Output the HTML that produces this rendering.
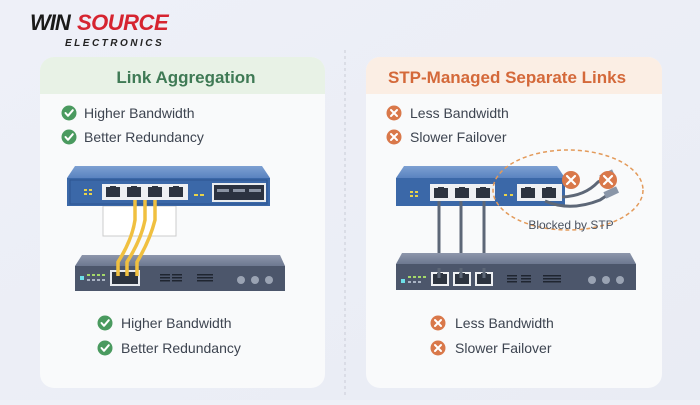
<!DOCTYPE html>
<html><head><meta charset="utf-8"><style>
body{margin:0;width:700px;height:400px;overflow:hidden;background:#eef0f7;font-family:"Liberation Sans",sans-serif}
</style></head><body>
<svg width="700" height="400" viewBox="0 0 700 400" xmlns="http://www.w3.org/2000/svg" font-family="Liberation Sans, sans-serif">
<defs>
<linearGradient id="bg" x1="0" y1="0" x2="1" y2="1"><stop offset="0" stop-color="#eef0f8"/><stop offset="1" stop-color="#e9ecf4"/></linearGradient>
<linearGradient id="blueTop" x1="0" y1="0" x2="0" y2="1"><stop offset="0" stop-color="#7da0d2"/><stop offset="1" stop-color="#5a83c0"/></linearGradient>
<linearGradient id="greyTop" x1="0" y1="0" x2="0" y2="1"><stop offset="0" stop-color="#8d96ab"/><stop offset="1" stop-color="#6d7890"/></linearGradient>
<g id="ok"><circle r="7.5" fill="#4a9a5f"/><path d="M-3.5 0 L-1 2.8 L3.8 -2.8" stroke="#fff" stroke-width="2" fill="none" stroke-linecap="round" stroke-linejoin="round"/></g>
<g id="no"><circle r="7.5" fill="#d9784a"/><path d="M-3 -3 L3 3 M3 -3 L-3 3" stroke="#fff" stroke-width="2" stroke-linecap="round"/></g>
<g id="port"><rect width="18" height="14" fill="#eef0f3"/><rect x="2" y="2" width="14" height="10" fill="#2d3440"/><rect x="6" y="1" width="6" height="3" fill="#2d3440"/></g>
</defs>
<rect width="700" height="400" fill="url(#bg)"/>
<!-- logo -->
<text x="30" y="30" font-size="22" font-weight="bold" font-style="italic" fill="#1a1a1a" letter-spacing="-1">WIN</text>
<text x="77" y="30" font-size="22" font-weight="bold" font-style="italic" fill="#d62430" letter-spacing="-0.5">SOURCE</text>
<text x="65" y="46" font-size="10" font-weight="bold" font-style="italic" fill="#222" letter-spacing="2.5">ELECTRONICS</text>
<line x1="345" y1="50" x2="345" y2="395" stroke="#c9ccd6" stroke-dasharray="3 3"/>
<!-- left card -->
<rect x="40" y="57" width="285" height="331" rx="14" fill="#f9fafb"/>
<path d="M54 57 H311 A14 14 0 0 1 325 71 V94 H40 V71 A14 14 0 0 1 54 57Z" fill="#e8f2e6"/>
<text x="186" y="83" font-size="17" font-weight="bold" fill="#3f7a55" text-anchor="middle">Link Aggregation</text>
<use href="#ok" x="69" y="113"/><text x="84" y="118" font-size="14" fill="#3d4450">Higher Bandwidth</text>
<use href="#ok" x="69" y="137"/><text x="84" y="142" font-size="14" fill="#3d4450">Better Redundancy</text>
<!-- left top switch -->
<rect x="103" y="206" width="73" height="30" fill="#fff" stroke="#ccc"/>
<path d="M75 166 H262 L270 178 H67Z" fill="url(#blueTop)"/>
<rect x="67" y="178" width="203" height="28" fill="#3b68a8"/>
<rect x="70" y="180" width="197" height="24" fill="none" stroke="#2c5590"/>
<rect x="84" y="189" width="3" height="2" fill="#e8d24a"/><rect x="89" y="189" width="3" height="2" fill="#e8d24a"/>
<rect x="84" y="193" width="3" height="2" fill="#e8d24a"/><rect x="89" y="193" width="3" height="2" fill="#e8d24a"/>
<rect x="102" y="184" width="86" height="16" fill="#eef0f3"/>
<use href="#port" x="104" y="185"/><use href="#port" x="125" y="185"/><use href="#port" x="146" y="185"/><use href="#port" x="167" y="185"/>
<rect x="194" y="194" width="4" height="2" fill="#e8d24a"/><rect x="200" y="194" width="4" height="2" fill="#e8d24a"/>
<rect x="212" y="183" width="54" height="19" fill="#e9ecef"/><rect x="214" y="185" width="50" height="15" fill="#2b3240"/>
<rect x="217" y="189" width="12" height="3" fill="#8a93a3"/><rect x="233" y="189" width="12" height="3" fill="#8a93a3"/><rect x="249" y="189" width="12" height="3" fill="#8a93a3"/>
<!-- left lower -->
<path d="M82 255 H280 L285 266 H75Z" fill="url(#greyTop)"/>
<rect x="75" y="266" width="210" height="25" fill="#4c566b"/>
<rect x="80" y="276" width="4" height="4" fill="#6ee0e8"/>
<g fill="#a4d86a"><rect x="87" y="274" width="3" height="2"/><rect x="92" y="274" width="3" height="2"/><rect x="97" y="274" width="3" height="2"/><rect x="102" y="274" width="3" height="2"/></g>
<g fill="#aab4c4"><rect x="87" y="279" width="3" height="2"/><rect x="92" y="279" width="3" height="2"/><rect x="97" y="279" width="3" height="2"/><rect x="102" y="279" width="3" height="2"/></g>
<rect x="110" y="270" width="30" height="16" fill="#e6e9ee"/><rect x="112" y="272" width="26" height="12" fill="#2d3440"/>
<!-- yellow cables -->
<g stroke="#f0c040" stroke-width="3.5" fill="none">
<path d="M135 200 V220 Q132 240 118 262 V276"/>
<path d="M145 200 V220 Q141 240 127 262 V276"/>
<path d="M155 200 V220 Q150 240 137 262 V276"/>
</g>
<g fill="#1f2530"><rect x="160" y="274" width="10" height="1.5"/><rect x="160" y="277" width="10" height="1.5"/><rect x="160" y="280" width="10" height="1.5"/><rect x="172" y="274" width="10" height="1.5"/><rect x="172" y="277" width="10" height="1.5"/><rect x="172" y="280" width="10" height="1.5"/><rect x="197" y="274" width="16" height="1.5"/><rect x="197" y="277" width="16" height="1.5"/><rect x="197" y="280" width="16" height="1.5"/></g>
<circle cx="241" cy="280" r="4" fill="#9aa3b3"/><circle cx="255" cy="280" r="4" fill="#9aa3b3"/><circle cx="269" cy="280" r="4" fill="#9aa3b3"/>
<use href="#ok" x="105" y="323"/><text x="121" y="328" font-size="14" fill="#3d4450">Higher Bandwidth</text>
<use href="#ok" x="105" y="348"/><text x="121" y="353" font-size="14" fill="#3d4450">Better Redundancy</text>
<!-- right card -->
<rect x="366" y="57" width="296" height="331" rx="14" fill="#f9fafb"/>
<path d="M380 57 H648 A14 14 0 0 1 662 71 V94 H366 V71 A14 14 0 0 1 380 57Z" fill="#fbeee4"/>
<text x="507" y="83" font-size="17" font-weight="bold" fill="#d4693a" text-anchor="middle">STP-Managed Separate Links</text>
<use href="#no" x="394" y="113"/><text x="410" y="118" font-size="14" fill="#3d4450">Less Bandwidth</text>
<use href="#no" x="394" y="137"/><text x="410" y="142" font-size="14" fill="#3d4450">Slower Failover</text>
<!-- right top switch -->
<path d="M404 166 H557 L565 178 H396Z" fill="url(#blueTop)"/>
<rect x="396" y="178" width="169" height="28" fill="#3b68a8"/>
<g fill="#e8d24a"><rect x="410" y="191" width="3" height="2"/><rect x="415" y="191" width="3" height="2"/><rect x="410" y="195" width="3" height="2"/><rect x="415" y="195" width="3" height="2"/><rect x="504" y="194" width="3" height="2"/><rect x="510" y="194" width="3" height="2"/></g>
<rect x="430" y="184" width="65" height="17" fill="#eef0f3"/>
<use href="#port" x="432" y="186"/><use href="#port" x="453" y="186"/><use href="#port" x="474" y="186"/>
<rect x="517" y="184" width="45" height="17" fill="#eef0f3"/>
<use href="#port" x="519" y="186"/><use href="#port" x="540" y="186"/>
<!-- grey cables -->
<g stroke="#5d6777" stroke-width="3"><line x1="439" y1="201" x2="439" y2="276"/><line x1="461" y1="201" x2="461" y2="276"/><line x1="484" y1="201" x2="484" y2="276"/></g>
<path d="M562 197 Q585 196 598 182 L610 176" stroke="#5d6777" stroke-width="3" fill="none"/>
<path d="M545 201 Q570 212 600 200 L612 192" stroke="#5d6777" stroke-width="3" fill="none"/>
<rect x="600" y="172" width="14" height="7" fill="#8a96a8" transform="rotate(-25 607 175)"/>
<rect x="604" y="189" width="14" height="7" fill="#8a96a8" transform="rotate(-25 611 192)"/>
<ellipse cx="568" cy="190" rx="75" ry="40" fill="none" stroke="#e39a5a" stroke-width="1.5" stroke-dasharray="4 3"/>
<circle cx="571" cy="180" r="9" fill="#d9784a"/><path d="M567 176 L575 184 M575 176 L567 184" stroke="#fff" stroke-width="2.2" stroke-linecap="round"/>
<circle cx="608" cy="180" r="9" fill="#d9784a"/><path d="M604 176 L612 184 M612 176 L604 184" stroke="#fff" stroke-width="2.2" stroke-linecap="round"/>
<text x="571" y="229" font-size="12" fill="#4a5260" text-anchor="middle">Blocked by STP</text>
<!-- right lower -->
<path d="M402 253 H630 L636 264 H396Z" fill="url(#greyTop)"/>
<rect x="396" y="264" width="240" height="26" fill="#4c566b"/>
<rect x="401" y="279" width="4" height="4" fill="#6ee0e8"/>
<g fill="#a4d86a"><rect x="408" y="276" width="3" height="2"/><rect x="413" y="276" width="3" height="2"/><rect x="418" y="276" width="3" height="2"/><rect x="423" y="276" width="3" height="2"/></g>
<g fill="#aab4c4"><rect x="408" y="281" width="3" height="2"/><rect x="413" y="281" width="3" height="2"/><rect x="418" y="281" width="3" height="2"/></g>
<use href="#port" x="431" y="272"/><use href="#port" x="453" y="272"/><use href="#port" x="475" y="272"/>
<g stroke="#5d6777" stroke-width="3"><line x1="439" y1="268" x2="439" y2="278"/><line x1="461" y1="268" x2="461" y2="278"/><line x1="484" y1="268" x2="484" y2="278"/></g>
<g fill="#1f2530"><rect x="507" y="275" width="10" height="1.5"/><rect x="507" y="278" width="10" height="1.5"/><rect x="507" y="281" width="10" height="1.5"/><rect x="521" y="275" width="10" height="1.5"/><rect x="521" y="278" width="10" height="1.5"/><rect x="521" y="281" width="10" height="1.5"/><rect x="543" y="275" width="18" height="1.5"/><rect x="543" y="278" width="18" height="1.5"/><rect x="543" y="281" width="18" height="1.5"/></g>
<circle cx="592" cy="280" r="4" fill="#9aa3b3"/><circle cx="606" cy="280" r="4" fill="#9aa3b3"/><circle cx="620" cy="280" r="4" fill="#9aa3b3"/>
<use href="#no" x="438" y="323"/><text x="455" y="328" font-size="14" fill="#3d4450">Less Bandwidth</text>
<use href="#no" x="438" y="348"/><text x="455" y="353" font-size="14" fill="#3d4450">Slower Failover</text>
</svg>
</body></html>
